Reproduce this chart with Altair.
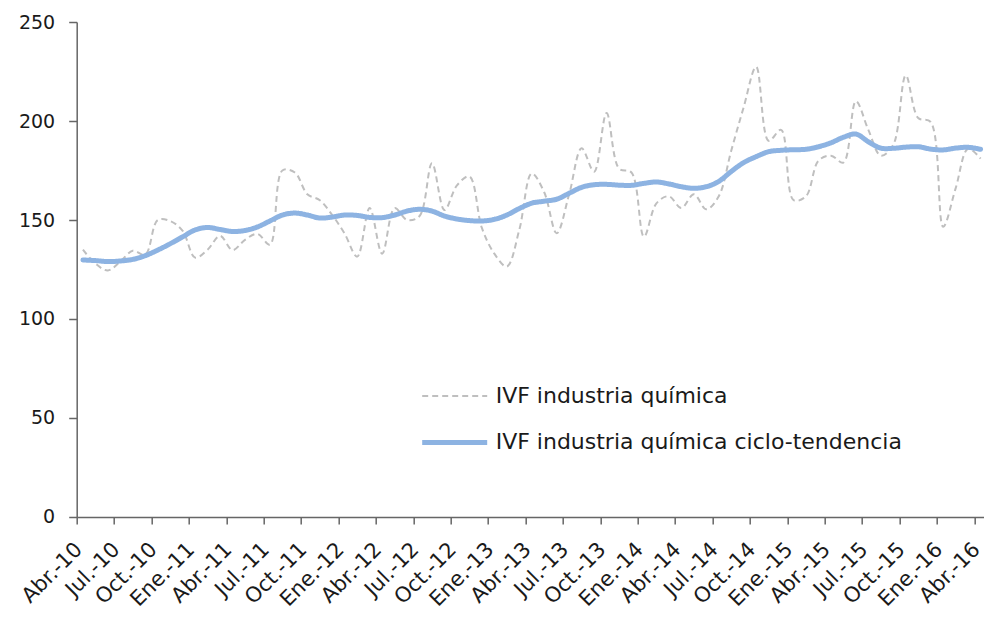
import altair as alt
import pandas as pd

# Month labels: Abr.-10 ... Abr.-16 (73 months)
abreviaturas = ["Ene.", "Feb.", "Mar.", "Abr.", "May.", "Jun.", "Jul.", "Ago.", "Sep.", "Oct.", "Nov.", "Dic."]
meses = []
for k in range(73):
    m = (3 + k) % 12
    a = 10 + (3 + k) // 12
    meses.append(f"{abreviaturas[m]}-{a:02d}")

ivf = [135, 128, 124.5, 129, 134.5, 132.5, 150, 149.5, 144.5, 131,
       135, 142, 134.8, 140, 143, 137.5, 175, 174, 163, 160,
       152.5, 143, 131.5, 156, 133, 156, 150, 152, 178.6, 155,
       167.5, 172, 146, 133, 126.5, 145, 173.5, 164, 143.3, 163,
       186.2, 174.4, 204, 176, 174, 141.6, 158.4, 162, 156, 163,
       155.4, 162, 185, 207, 227.4, 190, 195.5, 160, 162, 180,
       182.5, 179, 210, 195.5, 182.5, 188, 223, 201.5, 199.5, 146.6,
       166, 186, 181]

tendencia = [129.8, 129.5, 129, 129.3, 130.1, 132, 134.8, 138, 141.5, 145,
             146.2, 145.2, 144.2, 144.7, 146.5, 149.5, 152.5, 153.5, 152.5, 151,
             151.5, 152.5, 152.3, 151.3, 151.2, 152.5, 154.5, 155.4, 154.5, 152,
             150.5, 149.7, 149.5, 150.3, 152.5, 155.8, 158.5, 159.5, 160.5, 163.5,
             166.5, 167.8, 168, 167.6, 167.5, 168.5, 169.2, 168.2, 166.8, 166,
             166.8, 169.5, 174.5, 179, 182, 184.5, 185.2, 185.5, 185.7, 187,
             189, 191.8, 193.4, 189.5, 186.3, 186.2, 186.8, 187, 185.8, 185.4,
             186.3, 186.7, 185.7]

series = ["IVF industria química", "IVF industria química ciclo-tendencia"]
colores = ["#bfbfbf", "#8db3e2"]
y_ticks = [0, 50, 100, 150, 200, 250]

# month index (category); ticks sit on the category boundaries every 3 months
indices = list(range(len(meses)))
tick_vals = [k - 0.5 for k in indices[::3]]
etiquetas = meses[::3]
label_expr = "[" + ",".join("'" + e + "'" for e in etiquetas) + "][round((datum.value + 0.5) / 3)]"

df = pd.concat([
    pd.DataFrame({"i": indices, "mes": meses, "valor": ivf, "serie": series[0]}),
    pd.DataFrame({"i": indices, "mes": meses, "valor": tendencia, "serie": series[1]}),
])

FONT = "DejaVu Sans"
AXIS_COLOR = "#666666"
TXT = "#1a1a1a"

leyenda = alt.Legend(
    title=None, orient="none", legendX=343, legendY=340.5,
    symbolType="stroke", symbolSize=4225, labelFontSize=22, labelFont=FONT,
    labelColor=TXT, labelOffset=6, rowPadding=-11, labelLimit=600,
)

x = alt.X(
    "i:Q",
    scale=alt.Scale(domain=[-0.5, 72.25], nice=False, zero=False),
    axis=alt.Axis(
        values=tick_vals, labelExpr=label_expr, title=None, grid=False,
        labelAngle=-45, labelAlign="right", labelBaseline="middle",
        labelOffset=2, labelPadding=22, tickSize=7, labelFontSize=21,
        labelFont=FONT, labelColor=TXT, domainColor=AXIS_COLOR,
        tickColor=AXIS_COLOR, domainWidth=1.5, tickWidth=1.5,
        labelOverlap=False, labelFlush=False, labelBound=False,
    ),
)
y = alt.Y(
    "valor:Q",
    scale=alt.Scale(domain=[0, 250], nice=False, zero=True),
    axis=alt.Axis(
        values=y_ticks, title=None, grid=False, tickSize=8, labelPadding=14,
        labelFontSize=19, labelFont=FONT, labelColor=TXT,
        domainColor=AXIS_COLOR, tickColor=AXIS_COLOR, domainWidth=1.5, tickWidth=1.5,
    ),
)
color = alt.Color("serie:N", scale=alt.Scale(domain=series, range=colores), legend=leyenda)
dash = alt.StrokeDash("serie:N", scale=alt.Scale(domain=series, range=[[6, 4], [1, 0]]), legend=leyenda)
width = alt.StrokeWidth("serie:N", scale=alt.Scale(domain=series, range=[2, 5]), legend=leyenda)

base = alt.Chart(df).encode(x=x, y=y, color=color, strokeDash=dash, strokeWidth=width)

capa_ivf = base.transform_filter(alt.datum.serie == series[0]).mark_line(
    interpolate="catmull-rom", clip=True)
capa_tend = base.transform_filter(alt.datum.serie == series[1]).mark_line(
    interpolate="catmull-rom", strokeCap="round", clip=True)

chart = alt.layer(capa_ivf, capa_tend).properties(
    width=907, height=495,
    padding={"left": 68.7, "top": 14, "right": 0, "bottom": 94},
    autosize=alt.AutoSizeParams(type="none"),
    background="white",
).configure_view(stroke=None)

chart.save("out.html", embed_options={"renderer": "svg", "actions": False})
